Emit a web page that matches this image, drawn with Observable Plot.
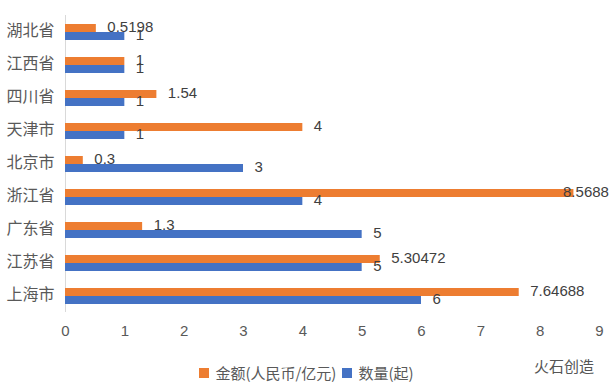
<!DOCTYPE html>
<html>
<head>
<meta charset="utf-8">
<script src="https://cdn.jsdelivr.net/npm/d3@7"></script>
<script src="https://cdn.jsdelivr.net/npm/@observablehq/plot@0.6"></script>
<style>
  body { margin: 0; background: #fff; font-family: "Liberation Sans", "Noto Sans CJK SC", sans-serif; }
  #wrap { position: relative; width: 613px; height: 388px; overflow: hidden; }
  #legend { position: absolute; left: 0; top: 363px; width: 613px; display: flex; justify-content: center; align-items: center; gap: 6px; font-size: 15px; color: #595959; font-family: "Noto Sans CJK SC", sans-serif; line-height: 20px; }
  .sw { display: inline-block; width: 10px; height: 10px; margin-right: 6px; }
  .item { display: flex; align-items: center; }
  #wm { position: absolute; left: 534px; top: 355px; font-size: 15px; color: #555; font-family: "Noto Sans CJK SC", sans-serif; }
</style>
</head>
<body>
<div id="wrap">
  <div id="chart"></div>
  <div id="legend"></div>
  <div id="wm">火石创造</div>
</div>
<script>
const categories = ["湖北省","江西省","四川省","天津市","北京市","浙江省","广东省","江苏省","上海市"];
const amount = [0.5198, 1, 1.54, 4, 0.3, 8.5688, 1.3, 5.30472, 7.64688];
const amountLabels = ["0.5198","1","1.54","4","0.3","8.5688","1.3","5.30472","7.64688"];
const count = [1, 1, 1, 1, 3, 4, 5, 5, 6];
const series = ["金额(人民币/亿元)", "数量(起)"];
const colors = ["#ED7D31", "#4472C4"];
const xTicks = [0, 1, 2, 3, 4, 5, 6, 7, 8, 9];

const data = [];
categories.forEach((c, i) => {
  data.push({cat: c, series: series[0], value: amount[i], label: amountLabels[i]});
  data.push({cat: c, series: series[1], value: count[i], label: String(count[i])});
});
const xMax = 9;
const fits = d => d.value < 8.3;

const chart = Plot.plot({
  width: 613,
  height: 345,
  marginLeft: 65,
  marginRight: 14,
  marginTop: 12,
  marginBottom: 30,
  style: {fontFamily: "Liberation Sans, Noto Sans CJK SC, sans-serif", color: "#595959", background: "#fff"},
  x: {domain: [0, xMax], label: null},
  fy: {domain: categories, padding: 0, label: null},
  y: {domain: series, paddingInner: 0, paddingOuter: 0.87, axis: null, label: null},
  color: {domain: series, range: colors},
  marks: [
    Plot.ruleX([0], {stroke: "#d9d9d9", strokeWidth: 1}),
    Plot.barX(data, {fy: "cat", y: "series", x1: 0, x2: "value", fill: "series"}),
    Plot.text(data.filter(fits), {fy: "cat", y: "series", x: "value", text: "label", textAnchor: "start", dx: 11, dy: -1, fontSize: 15, fill: "#404040"}),
    Plot.text(data.filter(d => !fits(d)), {fy: "cat", y: "series", x: "value", text: "label", textAnchor: "end", dx: 35, dy: -1, fontSize: 15, fill: "#404040"}),
    Plot.axisX(xTicks, {tickSize: 0, tickPadding: 13, fontSize: 15, fill: "#595959", label: null}),
    Plot.axisFy({anchor: "left", tickSize: 0, tickPadding: 11, fontSize: 16, fill: "#595959", fontFamily: "Noto Sans CJK SC, sans-serif", label: null, dy: -1})
  ]
});
document.getElementById("chart").appendChild(chart);

const legend = document.getElementById("legend");
series.forEach((s, i) => {
  const it = document.createElement("span");
  it.className = "item";
  const sw = document.createElement("span");
  sw.className = "sw";
  sw.style.background = colors[i];
  it.appendChild(sw);
  it.appendChild(document.createTextNode(s));
  legend.appendChild(it);
});
</script>
</body>
</html>
